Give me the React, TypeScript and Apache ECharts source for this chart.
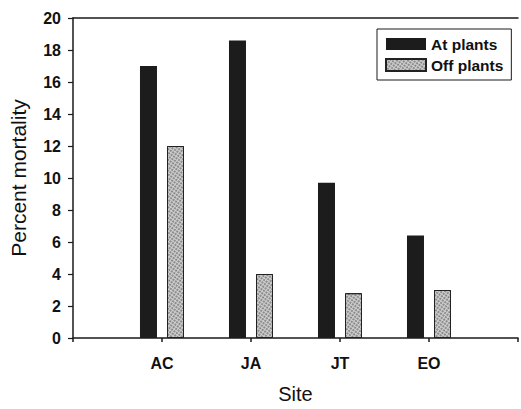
import React, { useEffect, useRef } from "react";
import * as echarts from "echarts";

const categories = ["AC", "JA", "JT", "EO"];
const atPlants = [17.0, 18.6, 9.7, 6.4];
const offPlants = [12.0, 4.0, 2.8, 3.0];
const seriesNames = ["At plants", "Off plants"];
const yTitle = "Percent mortality";
const xTitle = "Site";

export default function App() {
  const ref = useRef<HTMLDivElement>(null);
  useEffect(() => {
    if (!ref.current) return;
    const chart = echarts.init(ref.current, null, { renderer: "svg" });
    const axisCats = ["", ...categories, ""];
    const pad = (arr: number[]) => ["-", ...arr, "-"];
    const font = "Liberation Sans, Arial, sans-serif";
    chart.setOption({
      animation: false,
      backgroundColor: "#ffffff",
      textStyle: { fontFamily: font },
      grid: {
        left: 71,
        width: 457,
        top: 18,
        height: 325,
        show: false,
      },
      legend: {
        data: seriesNames,
        orient: "vertical",
        left: 377,
        top: 29,
        icon: "rect",
        itemWidth: 40,
        itemHeight: 12,
        itemGap: 5,
        padding: [7, 8, 7, 8],
        borderColor: "#1a1a1a",
        borderWidth: 1,
        borderRadius: 0,
        backgroundColor: "#ffffff",
        textStyle: { fontFamily: font, fontSize: 15.5, fontWeight: "bold", color: "#111" },
      },
      xAxis: [
        {
          type: "category",
          data: axisCats,
          boundaryGap: false,
          name: xTitle,
          nameLocation: "middle",
          nameGap: 46,
          nameTextStyle: { fontFamily: font, fontSize: 20, color: "#111" },
          axisLine: { show: true, lineStyle: { color: "#1a1a1a", width: 1.5 } },
          axisTick: { show: true, length: 4, lineStyle: { color: "#1a1a1a", width: 1.5 } },
          axisLabel: {
            margin: 17,
            fontFamily: font,
            fontSize: 16,
            fontWeight: "bold",
            color: "#111",
          },
          splitLine: { show: false },
        },
        {
          type: "category",
          data: axisCats,
          boundaryGap: false,
          position: "top",
          axisLine: { show: true, lineStyle: { color: "#1a1a1a", width: 1.5 } },
          axisTick: { show: false },
          axisLabel: { show: false },
          splitLine: { show: false },
        },
      ],
      yAxis: {
        type: "value",
        min: 0,
        max: 20,
        interval: 2,
        name: yTitle,
        nameLocation: "middle",
        nameGap: 44,
        nameTextStyle: { fontFamily: font, fontSize: 21, color: "#111" },
        axisLine: { show: true, lineStyle: { color: "#1a1a1a", width: 1.5 } },
        axisTick: { show: true, length: 5, lineStyle: { color: "#1a1a1a", width: 1.2 } },
        axisLabel: {
          margin: 12,
          fontFamily: font,
          fontSize: 16,
          fontWeight: "bold",
          color: "#111",
        },
        splitLine: { show: false },
      },
      series: [
        {
          name: seriesNames[0],
          type: "bar",
          data: pad(atPlants),
          barWidth: 17,
          barGap: "59%",
          itemStyle: { color: "#1c1c1c" },
        },
        {
          name: seriesNames[1],
          type: "bar",
          data: pad(offPlants),
          barWidth: 17,
          barGap: "59%",
          itemStyle: {
            color: "#cfcfcf",
            borderColor: "#222",
            borderWidth: 1,
            decal: {
              symbol: "circle",
              symbolSize: 0.9,
              color: "rgba(40,40,40,0.55)",
              dashArrayX: [2, 1],
              dashArrayY: [2, 1],
              rotation: 0.6,
            },
          },
        },
      ],
    });
    return () => chart.dispose();
  }, []);
  return (
    <div
      ref={ref}
      style={{ position: "fixed", left: 0, top: 0, width: 521, height: 409, overflow: "hidden" }}
    />
  );
}
